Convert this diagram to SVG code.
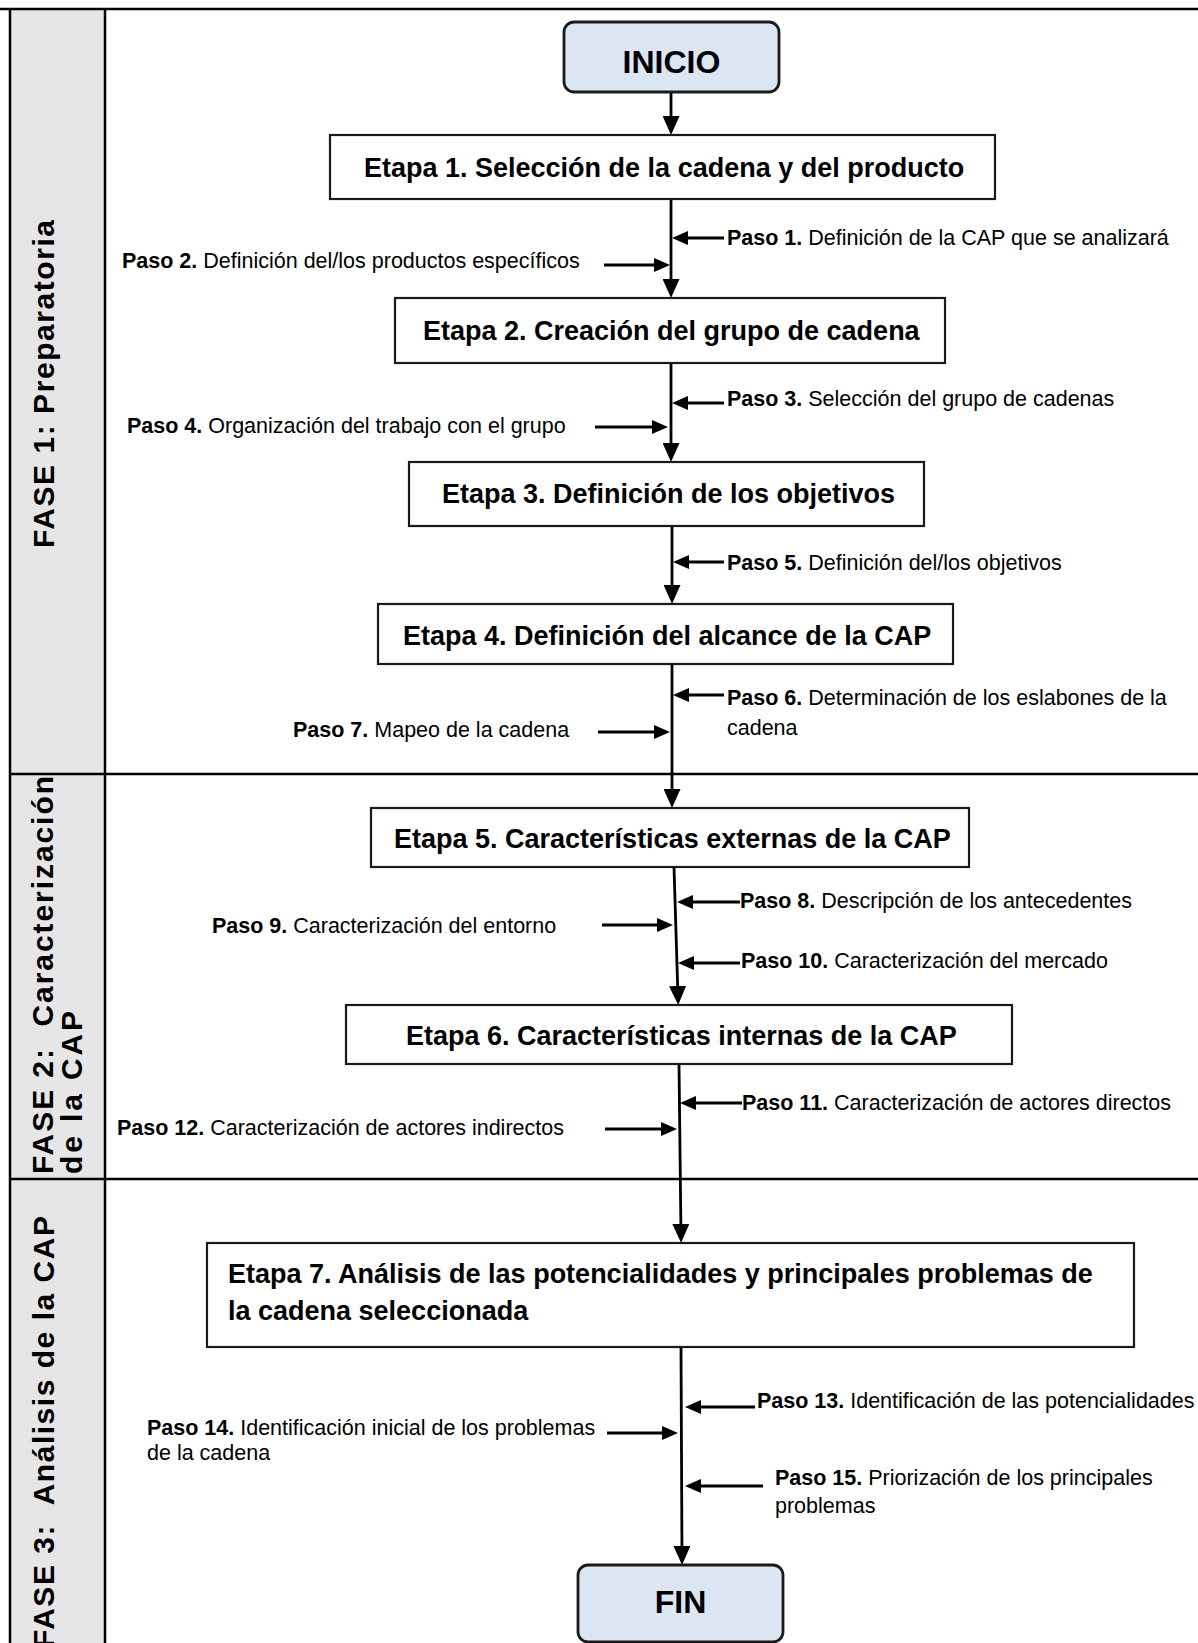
<svg xmlns="http://www.w3.org/2000/svg" width="1198" height="1643" viewBox="0 0 1198 1643">
<style>
.frame{stroke:#000;stroke-width:2.5;fill:none}
.box{fill:#fff;stroke:#1a1a1a;stroke-width:2.2}
.term{fill:#dce6f2;stroke:#1a1a1a;stroke-width:2.8}
.et{font-family:"Liberation Sans",Arial,sans-serif;font-weight:bold;font-size:27px;fill:#000}
.term-t{font-family:"Liberation Sans",Arial,sans-serif;font-weight:bold;font-size:32px;fill:#000}
.ps{font-family:"Liberation Sans",Arial,sans-serif;font-size:21.5px;fill:#000}
.ps .b{font-weight:bold}
.ph{font-family:"Liberation Sans",Arial,sans-serif;font-weight:bold;font-size:30px;fill:#000}
.v{stroke:#000;stroke-width:2.8;fill:none;marker-end:url(#av)}
.h{stroke:#000;stroke-width:3;fill:none;marker-end:url(#ah)}
</style>
<defs>
<marker id="av" markerUnits="userSpaceOnUse" markerWidth="19" markerHeight="17" refX="12" refY="8.5" orient="auto"><path d="M0,0 L19,8.5 L0,17 z" fill="#000"/></marker>
<marker id="ah" markerUnits="userSpaceOnUse" markerWidth="16" markerHeight="14" refX="9" refY="7" orient="auto"><path d="M0,0 L16,7 L0,14 z" fill="#000"/></marker>
</defs>
<rect x="0" y="0" width="1198" height="1643" fill="#fff"/>
<g id="phase-column">
<rect x="10" y="9" width="95" height="1640" fill="#e6e6e6"/>
<line class="frame" x1="0" y1="9" x2="1198" y2="9"/>
<line class="frame" x1="10" y1="9" x2="10" y2="1643"/>
<line class="frame" x1="105" y1="9" x2="105" y2="1643"/>
<line class="frame" x1="10" y1="774" x2="1198" y2="774"/>
<line class="frame" x1="10" y1="1179" x2="1198" y2="1179"/>
</g>
<g id="fase1"><text class="ph" transform="translate(54,548) rotate(-90)" textLength="328" lengthAdjust="spacing">FASE 1: Preparatoria</text></g>
<g id="fase2"><text class="ph" transform="translate(53,1174) rotate(-90)" textLength="398" lengthAdjust="spacing" xml:space="preserve">FASE 2:  Caracterización</text><text class="ph" transform="translate(82,1174) rotate(-90)" textLength="163" lengthAdjust="spacing">de la CAP</text></g>
<g id="fase3"><text class="ph" transform="translate(54,1648) rotate(-90)" textLength="432" lengthAdjust="spacing" xml:space="preserve">FASE 3:  Análisis de la CAP</text></g>

<g id="connectors">
<line class="v" x1="671" y1="92" x2="671" y2="128"/>
<line class="v" x1="671" y1="199" x2="671" y2="291"/>
<line class="v" x1="671" y1="363" x2="671" y2="455"/>
<line class="v" x1="672" y1="526" x2="672" y2="597"/>
<line class="v" x1="672" y1="664" x2="672" y2="801"/>
<line class="v" x1="674" y1="867" x2="678" y2="998"/>
<line class="v" x1="679" y1="1064" x2="681" y2="1236"/>
<line class="v" x1="681" y1="1347" x2="682" y2="1558"/>
<line class="h" x1="724" y1="238" x2="679" y2="238"/>
<line class="h" x1="604" y1="265" x2="663" y2="265"/>
<line class="h" x1="724" y1="403" x2="679" y2="403"/>
<line class="h" x1="595" y1="427" x2="661" y2="427"/>
<line class="h" x1="724" y1="562" x2="680" y2="562"/>
<line class="h" x1="724" y1="695" x2="680" y2="695"/>
<line class="h" x1="598" y1="732" x2="663" y2="732"/>
<line class="h" x1="740" y1="902" x2="684" y2="902"/>
<line class="h" x1="602" y1="925" x2="666" y2="925"/>
<line class="h" x1="740" y1="963" x2="685" y2="963"/>
<line class="h" x1="742" y1="1103" x2="687" y2="1103"/>
<line class="h" x1="605" y1="1129" x2="670" y2="1129"/>
<line class="h" x1="755" y1="1407" x2="692" y2="1407"/>
<line class="h" x1="607" y1="1433" x2="671" y2="1433"/>
<line class="h" x1="763" y1="1486" x2="692" y2="1486"/>
</g>

<g id="inicio"><rect class="term" x="564" y="22" width="215" height="70" rx="10"/><text class="term-t" x="671.5" y="73" text-anchor="middle">INICIO</text></g>
<g id="etapa1"><rect class="box" x="330" y="135" width="665" height="64"/><text class="et" x="364" y="177">Etapa 1. Selección de la cadena y del producto</text></g>
<g id="etapa2"><rect class="box" x="395" y="298" width="550" height="65"/><text class="et" x="423" y="340">Etapa 2. Creación del grupo de cadena</text></g>
<g id="etapa3"><rect class="box" x="409" y="462" width="515" height="64"/><text class="et" x="442" y="503">Etapa 3. Definición de los objetivos</text></g>
<g id="etapa4"><rect class="box" x="378" y="604" width="575" height="60"/><text class="et" x="403" y="645">Etapa 4. Definición del alcance de la CAP</text></g>
<g id="etapa5"><rect class="box" x="371" y="808" width="598" height="59"/><text class="et" x="394" y="848">Etapa 5. Características externas de la CAP</text></g>
<g id="etapa6"><rect class="box" x="346" y="1005" width="666" height="59"/><text class="et" x="406" y="1045">Etapa 6. Características internas de la CAP</text></g>
<g id="etapa7"><rect class="box" x="207" y="1243" width="927" height="104"/><text class="et" x="228" y="1283">Etapa 7. Análisis de las potencialidades y principales problemas de</text><text class="et" x="228" y="1320">la cadena seleccionada</text></g>
<g id="fin"><rect class="term" x="578" y="1565" width="205" height="77" rx="10"/><text class="term-t" x="680.5" y="1613" text-anchor="middle">FIN</text></g>

<g id="paso1"><text class="ps" x="727" y="245"><tspan class="b">Paso 1.</tspan> Definición de la CAP que se analizará</text></g>
<g id="paso2"><text class="ps" x="122" y="268"><tspan class="b">Paso 2.</tspan> Definición del/los productos específicos</text></g>
<g id="paso3"><text class="ps" x="727" y="406"><tspan class="b">Paso 3.</tspan> Selección del grupo de cadenas</text></g>
<g id="paso4"><text class="ps" x="127" y="433"><tspan class="b">Paso 4.</tspan> Organización del trabajo con el grupo</text></g>
<g id="paso5"><text class="ps" x="727" y="570"><tspan class="b">Paso 5.</tspan> Definición del/los objetivos</text></g>
<g id="paso6"><text class="ps" x="727" y="705"><tspan class="b">Paso 6.</tspan> Determinación de los eslabones de la</text><text class="ps" x="727" y="735">cadena</text></g>
<g id="paso7"><text class="ps" x="293" y="737"><tspan class="b">Paso 7.</tspan> Mapeo de la cadena</text></g>
<g id="paso8"><text class="ps" x="740" y="908"><tspan class="b">Paso 8.</tspan> Descripción de los antecedentes</text></g>
<g id="paso9"><text class="ps" x="212" y="933"><tspan class="b">Paso 9.</tspan> Caracterización del entorno</text></g>
<g id="paso10"><text class="ps" x="741" y="968"><tspan class="b">Paso 10.</tspan> Caracterización del mercado</text></g>
<g id="paso11"><text class="ps" x="742" y="1110"><tspan class="b">Paso 11.</tspan> Caracterización de actores directos</text></g>
<g id="paso12"><text class="ps" x="117" y="1135"><tspan class="b">Paso 12.</tspan> Caracterización de actores indirectos</text></g>
<g id="paso13"><text class="ps" x="757" y="1408"><tspan class="b">Paso 13.</tspan> Identificación de las potencialidades</text></g>
<g id="paso14"><text class="ps" x="147" y="1435"><tspan class="b">Paso 14.</tspan> Identificación inicial de los problemas</text><text class="ps" x="147" y="1460">de la cadena</text></g>
<g id="paso15"><text class="ps" x="775" y="1485"><tspan class="b">Paso 15.</tspan> Priorización de los principales</text><text class="ps" x="775" y="1513">problemas</text></g>
</svg>
